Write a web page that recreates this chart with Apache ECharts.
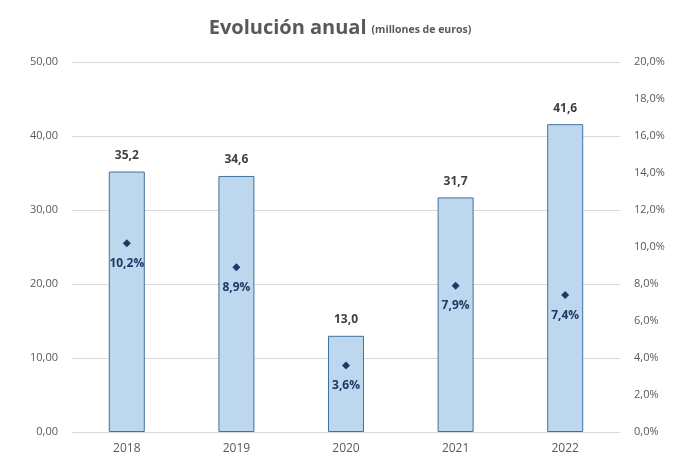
<!DOCTYPE html>
<html>
<head>
<meta charset="utf-8">
<script src="https://cdn.jsdelivr.net/npm/echarts@6/dist/echarts.min.js"></script>
<style>
  html, body { margin: 0; padding: 0; background: #fff; }
  #chart { width: 680px; height: 459px; }
</style>
</head>
<body>
<div id="chart"></div>
<script>
// datos
const years = ['2018', '2019', '2020', '2021', '2022'];
const importes = [35.2, 34.6, 13.0, 31.7, 41.6];     // millones de euros
const variacion = [10.2, 8.9, 3.6, 7.9, 7.4];        // %

const chart = echarts.init(document.getElementById('chart'));

function coma(v, d) {
  return v.toFixed(d).replace('.', ',');
}

const option = {
  animation: false,
  title: {
    text: '{a|Evolución anual} {b|(millones de euros)}',
    left: 'center',
    top: 13,
    textStyle: {
      rich: {
        a: { fontFamily: 'Open Sans', fontSize: 20, fontWeight: 'bold', color: '#595959' },
        b: { fontFamily: 'Open Sans', fontSize: 10.5, color: '#595959', padding: [5, 0, 0, 0] }
      }
    }
  },
  grid: { left: 72, right: 60, top: 62, bottom: 27 },
  xAxis: {
    type: 'category',
    data: years,
    axisLine: { show: false },
    axisTick: { show: false },
    axisLabel: { color: '#595959', fontFamily: 'Open Sans', fontSize: 12, margin: 11 }
  },
  yAxis: [
    {
      type: 'value',
      min: 0, max: 50, interval: 10,
      axisLine: { show: false },
      axisTick: { show: false },
      splitLine: { lineStyle: { color: '#d9d9d9' } },
      axisLabel: {
        color: '#595959', fontFamily: 'Open Sans', fontSize: 11, margin: 14,
        formatter: function (v) { return coma(v, 2); }
      }
    },
    {
      type: 'value',
      min: 0, max: 20, interval: 2,
      axisLine: { show: false },
      axisTick: { show: false },
      splitLine: { show: false },
      axisLabel: {
        color: '#595959', fontFamily: 'Open Sans', fontSize: 11, margin: 14,
        formatter: function (v) { return coma(v, 1) + '%'; }
      }
    }
  ],
  series: [
    {
      name: 'Importe',
      type: 'bar',
      data: importes,
      barWidth: 36,
      itemStyle: { color: '#bdd7ee', borderColor: '#41719c', borderWidth: 1 },
      label: {
        show: true, position: 'top', distance: 10,
        color: '#404040', fontFamily: 'Open Sans', fontSize: 12, fontWeight: 'bold',
        formatter: function (p) { return coma(p.value, 1); }
      }
    },
    {
      name: 'Variación',
      type: 'line',
      yAxisIndex: 1,
      data: variacion,
      lineStyle: { width: 0, opacity: 0 },
      symbol: 'diamond',
      symbolSize: 8,
      itemStyle: { color: '#1f3864' },
      label: {
        show: true, position: 'bottom', distance: 10,
        color: '#1f3864', fontFamily: 'Open Sans', fontSize: 12, fontWeight: 'bold',
        formatter: function (p) { return coma(p.value, 1) + '%'; }
      }
    }
  ]
};

chart.setOption(option);
</script>
</body>
</html>
